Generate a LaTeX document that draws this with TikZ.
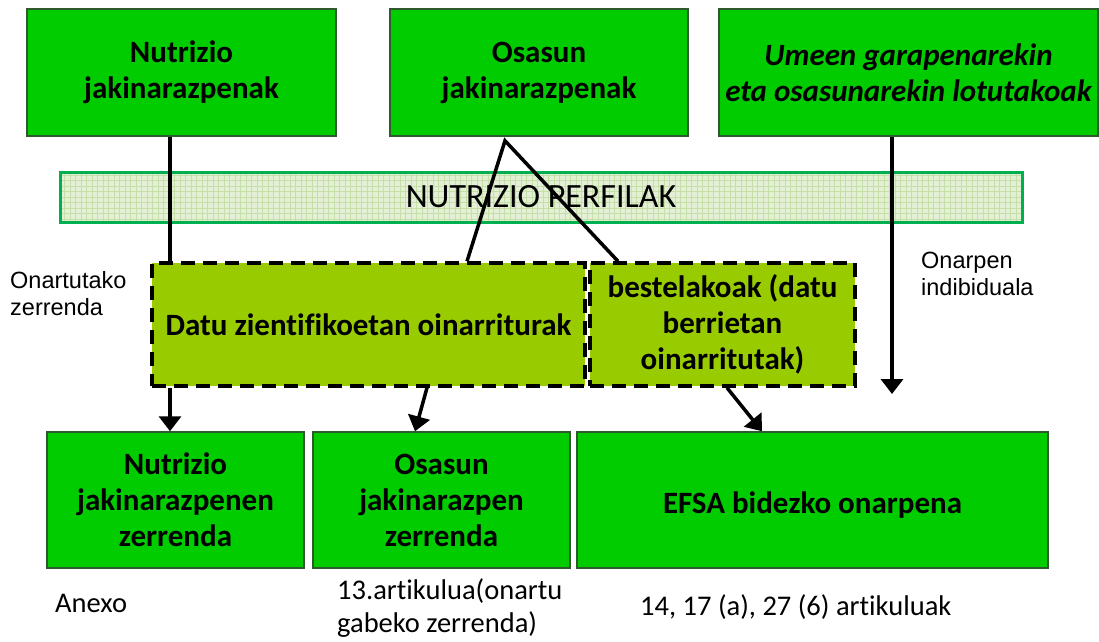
\documentclass[tikz,border=0pt]{standalone}
\usepackage{fontspec}
\setmainfont[Ligatures=CommonOff]{Carlito}
\newfontfamily\arialfont{Liberation Sans}
\usetikzlibrary{arrows.meta,positioning}
\definecolor{boxgreen}{HTML}{00CC00}
\definecolor{boxedge}{HTML}{2E5A2E}
\definecolor{dashgreen}{HTML}{99CC00}
\definecolor{bandfill}{HTML}{E4F0D6}
\definecolor{bandgrid}{HTML}{C6DEA8}
\definecolor{bandedge}{HTML}{00B050}
\newcommand{\boxtxt}{\fontsize{31}{36}\selectfont\bfseries}
\newcommand{\bandtxt}{\fontsize{34}{40}\selectfont}
\newcommand{\notetxt}{\fontsize{28.5}{33}\selectfont}
\newcommand{\sidetxt}{\arialfont\fontsize{23.5}{27}\selectfont}
\tikzset{
    %Define standard arrow tip
    >={Triangle[length=15pt,width=22pt]},
    %Define style for green boxes
    gbox/.style={
      rectangle,
      draw=boxedge, line width=1.5pt,
      fill=boxgreen,
      minimum height=127pt,
      inner sep=4pt,
      align=center,
      font=\boxtxt},
    %Define style for dashed boxes
    dbox/.style={
      rectangle,
      draw=black, line width=3.5pt,
      dash pattern=on 14pt off 8pt,
      fill=dashgreen,
      minimum height=123pt,
      align=center,
      font=\boxtxt},
    %Define style for the profile band
    band/.style={
      rectangle,
      draw=bandedge, line width=3pt,
      fill=bandfill,
      minimum width=962pt,
      minimum height=50pt,
      font=\bandtxt,
      path picture={
        \draw[bandgrid, line width=0.7pt]
          (path picture bounding box.south west) grid[step=5.5pt]
          (path picture bounding box.north east);}},
    %Define style for plain texts
    sidelabel/.style={
      anchor=west, align=left, inner sep=0pt, font=\sidetxt},
    notelabel/.style={
      anchor=west, align=left, inner sep=0pt, font=\notetxt},
    % Define line styles
    ln/.style={
      line width=3.5pt},
    arr/.style={
      ->,
      line width=3.5pt}
}

\begin{document}
\begin{tikzpicture}[x=1pt, y=-1pt]
    \useasboundingbox (0,0) rectangle (1099,641);

    \node[gbox, minimum width=309pt] (nutr) at (181.5,72.5) {Nutrizio\\jakinarazpenak};
    \node[gbox, minimum width=298pt] (osas) at (539,72.5) {Osasun\\jakinarazpenak};
    \node[gbox, minimum width=379pt, font=\boxtxt\itshape] (umeen) at (908.5,72.5)
      {Umeen garapenarekin\\eta osasunarekin lotutakoak};

    \node[band] (perfil) at (541,197) {NUTRIZIO PERFILAK};

    \node[dbox, minimum width=433pt] (dleft) at (368.5,324.5) {Datu zientifikoetan oinarriturak};
    \node[dbox, minimum width=265pt] (dright) at (722.5,324.5) {bestelakoak (datu\\berrietan\\oinarritutak)};

    \node[gbox, minimum width=257pt, minimum height=136pt] (nlist) at (175.5,500) {Nutrizio\\jakinarazpenen\\zerrenda};
    \node[gbox, minimum width=257pt, minimum height=136pt] (olist) at (441.5,500) {Osasun\\jakinarazpen\\zerrenda};
    \node[gbox, minimum width=471pt, minimum height=136pt, text height=32pt, text depth=6pt] (efsa) at (812.5,500) {EFSA bidezko onarpena};

    \node[sidelabel] (onartu) at (10,294) {Onartutako\\zerrenda};
    \node[sidelabel] (onarpen) at (921,274) {Onarpen\\indibiduala};
    \node[notelabel] (anexo) at (55,603) {Anexo};
    \node[notelabel] (artik13) at (337,608) {13.artikulua(onartu\\gabeko zerrenda)};
    \node[notelabel] (artik14) at (640,607) {14, 17 (a), 27 (6) artikuluak};

    % columns where the connectors run
    \coordinate (c1) at (170,0);
    \coordinate (c2) at (505,0);
    \coordinate (c3) at (467,0);
    \coordinate (c4) at (618,0);
    \coordinate (c5) at (427,0);
    \coordinate (c6) at (415,0);
    \coordinate (c7) at (727,0);
    \coordinate (c8) at (762,0);
    \coordinate (uend) at (892,394);

    \draw[ln] (nutr.south -| c1) -- (dleft.north -| c1);
    \draw[arr] (dleft.south -| c1) -- (nlist.north -| c1);
    \draw[ln] (dleft.north -| c3) -- ([yshift=-4pt]osas.south -| c2) -- (dright.north -| c4);
    \draw[arr] (dleft.south -| c5) -- (olist.north -| c6);
    \draw[arr] (dright.south -| c7) -- (efsa.north -| c8);
    \draw[arr] (umeen.south -| uend) -- (uend);
\end{tikzpicture}
\end{document}
